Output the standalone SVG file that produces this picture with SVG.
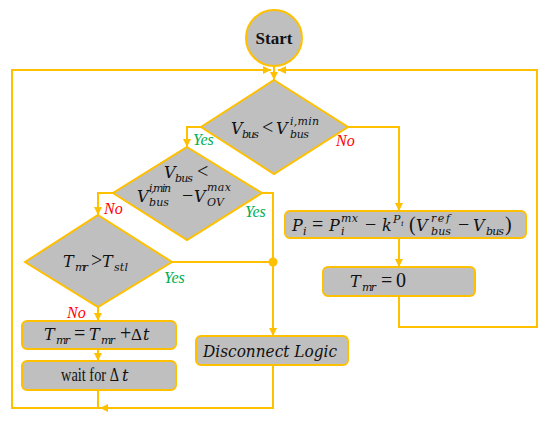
<svg xmlns="http://www.w3.org/2000/svg" width="550" height="422" viewBox="0 0 550 422">
<defs>
<style>
.ln{fill:none;stroke:#FFC000;stroke-width:2}
.shp{fill:#BFBFBF;stroke:#FFC000;stroke-width:2}
.m{font-family:"DejaVu Serif",serif;font-style:italic;font-size:16px;fill:#111}
.s{font-family:"DejaVu Serif",serif;font-style:italic;font-size:11px;fill:#111}
.o{font-family:"Liberation Serif",serif;font-size:20px;fill:#111}
.y{font-family:"Liberation Serif","DejaVu Serif",serif;font-style:italic;font-size:16px;fill:#00B050}
.n{font-family:"Liberation Serif","DejaVu Serif",serif;font-style:italic;font-size:16px;fill:#FF0000}
</style>
<marker id="a" viewBox="0 0 8 8" refX="8" refY="4" markerWidth="4" markerHeight="4" orient="auto" markerUnits="strokeWidth">
<path d="M0,0 L8,4 L0,8 z" fill="#FFC000"/>
</marker>
</defs>

<g id="connectors">
<path class="ln" d="M274,66 L274,80" marker-end="url(#a)"/>
<path class="ln" d="M101,408 L12,408 L12,70 L271,70" marker-end="url(#a)"/>
<path class="ln" d="M399,296 L399,327 L537,327 L537,70 L278,70" marker-end="url(#a)"/>
<path class="ln" d="M201,127 L187,127 L187,147" marker-end="url(#a)"/>
<path class="ln" d="M348,127 L399,127 L399,211" marker-end="url(#a)"/>
<path class="ln" d="M113,193 L98,193 L98,215" marker-end="url(#a)"/>
<path class="ln" d="M262,193 L273,193 L273,336" marker-end="url(#a)"/>
<path class="ln" d="M172,262 L273,262"/>
<circle cx="273" cy="262" r="4.5" fill="#FFC000"/>
<path class="ln" d="M98,307 L98,321" marker-end="url(#a)"/>
<path class="ln" d="M98,349 L98,361" marker-end="url(#a)"/>
<path class="ln" d="M98,390 L98,408"/>
<path class="ln" d="M273,365 L273,408 L100,408" marker-end="url(#a)"/>
<path class="ln" d="M399,238 L399,267" marker-end="url(#a)"/>
<text class="y" x="193" y="145">Yes</text>
<text class="n" x="336" y="146">No</text>
<text class="n" x="104" y="214">No</text>
<text class="y" x="245" y="217">Yes</text>
<text class="y" x="164" y="283">Yes</text>
<text class="n" x="67" y="318">No</text>
</g>

<g id="start">
<circle class="shp" cx="274" cy="38" r="28"/>
<text x="274" y="44" text-anchor="middle" style="font-family:'Liberation Serif',serif;font-weight:bold;font-size:17px;fill:#111">Start</text>
</g>

<g id="d1">
<polygon class="shp" points="274,80 348,127 274,174 201,127"/>
<text class="m" x="231" y="134">V</text>
<text class="s" x="242" y="138" textLength="17">bus</text>
<text class="o" x="262" y="134">&lt;</text>
<text class="m" x="276" y="134">V</text>
<text class="s" x="290" y="138" textLength="19">bus</text>
<text class="s" x="290" y="125" textLength="29">i,min</text>
</g>

<g id="d2">
<polygon class="shp" points="187,147 262,193 187,240 113,193"/>
<text class="m" x="164" y="178">V</text>
<text class="s" x="175" y="182" textLength="18">bus</text>
<text class="o" x="197" y="178">&lt;</text>
<text class="m" x="137" y="202">V</text>
<text class="s" x="149" y="206" textLength="20">bus</text>
<text class="s" x="149" y="192" textLength="22">i,min</text>
<text class="o" x="182" y="202">−</text>
<text class="m" x="194" y="202">V</text>
<text class="s" x="207" y="206" textLength="17">OV</text>
<text class="s" x="207" y="191" textLength="24">max</text>
</g>

<g id="d3">
<polygon class="shp" points="98,215 172,262 98,307 25,262"/>
<text class="m" x="63" y="267">T</text>
<text class="s" x="75" y="271" textLength="13">mr</text>
<text class="o" x="91" y="267">&gt;</text>
<text class="m" x="102" y="267">T</text>
<text class="s" x="114" y="271" textLength="14">stl</text>
</g>

<g id="p">
<rect class="shp" x="285" y="211" width="241" height="27" rx="5"/>
<text class="m" x="292" y="231">P</text>
<text class="s" x="303" y="235">i</text>
<text class="o" x="312" y="231">=</text>
<text class="m" x="329" y="231">P</text>
<text class="s" x="341" y="235">i</text>
<text class="s" x="341" y="222" textLength="17">mx</text>
<text class="o" x="365" y="231">−</text>
<text class="m" x="382" y="231">k</text>
<text class="s" x="393" y="223">P</text>
<text style="font-family:'DejaVu Serif',serif;font-style:italic;font-size:8px;fill:#111" x="401" y="226">i</text>
<text class="o" x="409" y="231">(</text>
<text class="m" x="416" y="231">V</text>
<text class="s" x="431" y="235" textLength="20">bus</text>
<text class="s" x="431" y="222" textLength="19">ref</text>
<text class="o" x="458" y="231">−</text>
<text class="m" x="473" y="231">V</text>
<text class="s" x="486" y="235" textLength="18">bus</text>
<text class="o" x="505" y="231">)</text>
</g>

<g id="t0">
<rect class="shp" x="323" y="267" width="152" height="29" rx="5"/>
<text class="m" x="350" y="287">T</text>
<text class="s" x="362" y="291" textLength="14">mr</text>
<text class="o" x="381" y="287">=</text>
<text class="o" x="396" y="287">0</text>
</g>

<g id="inc">
<rect class="shp" x="22" y="321" width="154" height="28" rx="5"/>
<text class="m" x="44" y="340">T</text>
<text class="s" x="56" y="344" textLength="14">mr</text>
<text class="o" x="74" y="340">=</text>
<text class="m" x="89" y="340">T</text>
<text class="s" x="101" y="344" textLength="14">mr</text>
<text class="o" x="120" y="340">+</text>
<text class="o" x="131" y="340" style="font-size:17px">Δ</text>
<text class="m" x="143" y="340">t</text>
</g>

<g id="wait">
<rect class="shp" x="22" y="361" width="154" height="29" rx="5"/>
<text x="61" y="381" textLength="58" lengthAdjust="spacingAndGlyphs" style="font-family:'Liberation Serif',serif;font-size:18px;fill:#111">wait for Δ</text>
<text class="m" x="122" y="381">t</text>
</g>

<g id="disc">
<rect class="shp" x="196" y="336" width="152" height="29" rx="5"/>
<text class="m" x="203" y="357" textLength="134" lengthAdjust="spacingAndGlyphs">Disconnect Logic</text>
</g>
</svg>
